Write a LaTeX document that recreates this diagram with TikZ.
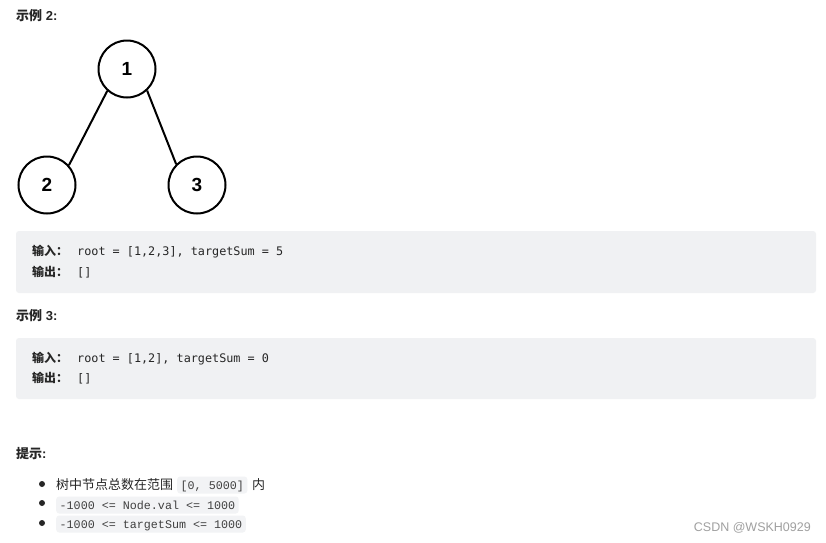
\documentclass[tikz,border=0pt]{standalone}
\usepackage{fontspec}
\setmainfont{Liberation Sans}
\newfontfamily\cjk{Noto Sans CJK SC}
\newfontfamily\codefont{DejaVu Sans Mono}
\newfontfamily\inlinefont{Liberation Mono}
\definecolor{txt}{RGB}{38,38,38}
\definecolor{boxbg}{RGB}{240,241,243}
\definecolor{codebg}{RGB}{242,243,245}
\definecolor{codetxt}{RGB}{64,64,64}
\definecolor{wm}{RGB}{160,160,160}
\tikzset{
  treenode/.style={circle, draw=black, line width=2pt, minimum size=57pt, inner sep=0pt,
    font=\fontsize{19}{21}\selectfont\bfseries},
  edge/.style={line width=2pt},
  txtnode/.style={anchor=base west, inner sep=0pt, text=txt},
  head/.style={txtnode, font=\fontsize{13}{15}\selectfont},
  label/.style={txtnode, font=\fontsize{12}{14}\selectfont\cjk\bfseries},
  code/.style={txtnode, font=\fontsize{11.8}{14}\selectfont\codefont},
  icode/.style={anchor=base west, fill=codebg, rounded corners=3pt, inner xsep=3.5pt, inner ysep=0pt,
    text height=12.5pt, text depth=4.5pt, text=codetxt, font=\fontsize{11.7}{14}\selectfont\inlinefont},
  bigbox/.style={fill=boxbg, rounded corners=3pt},
  dot/.style={circle, fill=txt, inner sep=0pt, minimum size=6pt}
}
\begin{document}
\begin{tikzpicture}[x=1pt, y=-1pt]
\useasboundingbox[fill=white] (0,0) rectangle (826,542);

% Example 2 heading
\node[head] (h2) at (16,20) {{\cjk\bfseries 示例} \textbf{2:}};

% tree
\node[treenode] (n1) at (127,69) {1};
\node[treenode] (n2) at (47,185) {2};
\node[treenode] (n3) at (197,185) {3};
\draw[edge] (n1.228) -- (n2.42);
\draw[edge] (n1.313) -- (n3.135);

% box 1
\fill[bigbox] (16,231) rectangle (816,293);
\node[label] (in1) at (32,255) {输入：};
\node[code] (in1v) at (77,255) {root = [1,2,3], targetSum = 5};
\node[label] (out1) at (32,276) {输出：};
\node[code] (out1v) at (77,276) {[]};

% Example 3 heading
\node[head] (h3) at (16,320) {{\cjk\bfseries 示例} \textbf{3:}};

% box 2
\fill[bigbox] (16,338) rectangle (816,399);
\node[label] (in2) at (32,362) {输入：};
\node[code] (in2v) at (77,362) {root = [1,2], targetSum = 0};
\node[label] (out2) at (32,382) {输出：};
\node[code] (out2v) at (77,382) {[]};

% hints
\node[head] (h4) at (16,458) {{\cjk\bfseries 提示}\textbf{:}};

\node[dot] (b1) at (42,484) {};
\node[dot] (b2) at (42,503) {};
\node[dot] (b3) at (42,523) {};

\node[txtnode, font=\fontsize{13}{15}\selectfont\cjk] (t1) at (56,489) {树中节点总数在范围};
\node[icode] (c1) at (177,489) {[0, 5000]};
\node[txtnode, font=\fontsize{13}{15}\selectfont\cjk] (t1b) at (252,489) {内};
\node[icode] (c2) at (56,509) {-1000 <= Node.val <= 1000};
\node[icode] (c3) at (56,528) {-1000 <= targetSum <= 1000};

% watermark
\node[anchor=base east, inner sep=0pt, text=wm, font=\fontsize{12.5}{14}\selectfont] (wmk) at (811,531) {CSDN @WSKH0929};
\end{tikzpicture}
\end{document}
